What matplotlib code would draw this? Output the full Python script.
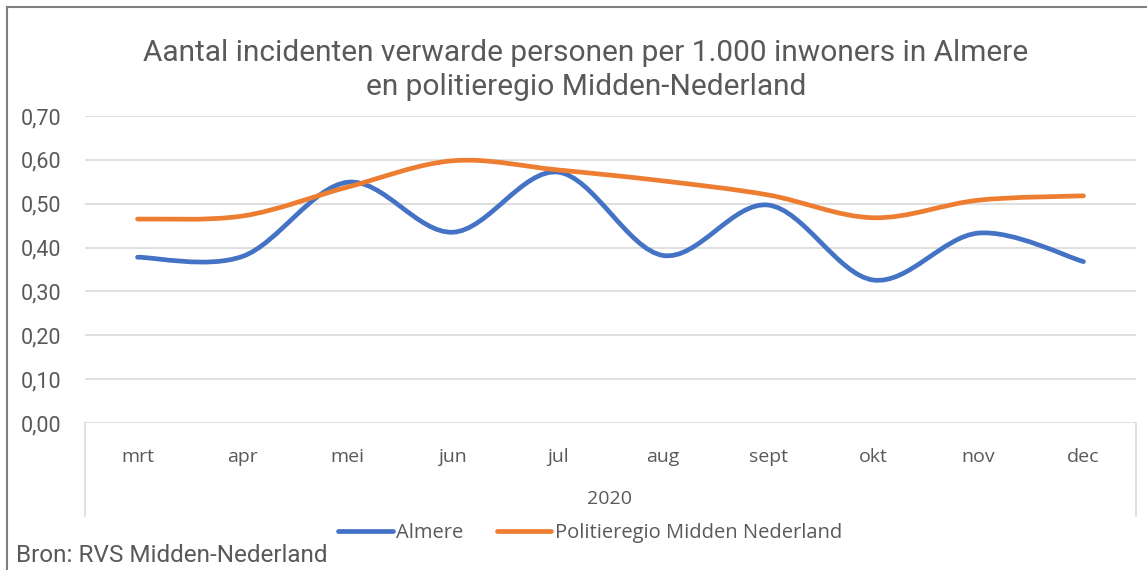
import matplotlib.pyplot as plt
from matplotlib.path import Path
from matplotlib.patches import PathPatch
from matplotlib.lines import Line2D
from matplotlib.ticker import FuncFormatter

maanden = ["mrt", "apr", "mei", "jun", "jul", "aug", "sept", "okt", "nov", "dec"]
almere = [0.378, 0.380, 0.549, 0.435, 0.572, 0.382, 0.497, 0.326, 0.433, 0.368]
midden_nl = [0.465, 0.472, 0.538, 0.598, 0.577, 0.552, 0.520, 0.468, 0.508, 0.518]
jaar = "2020"

grijs = "#595959"
blauw = "#4472C4"
oranje = "#ED7D31"


def glad(xs, ys):
    # Excel-achtige smoothing: bezier door de punten
    verts = [(xs[0], ys[0])]
    codes = [Path.MOVETO]
    n = len(xs)
    for i in range(n - 1):
        x0, y0 = (xs[i - 1], ys[i - 1]) if i > 0 else (xs[i], ys[i])
        x1, y1 = xs[i], ys[i]
        x2, y2 = xs[i + 1], ys[i + 1]
        x3, y3 = (xs[i + 2], ys[i + 2]) if i + 2 < n else (x2, y2)
        c1 = (x1 + (x2 - x0) / 6, y1 + (y2 - y0) / 6)
        c2 = (x2 - (x3 - x1) / 6, y2 - (y3 - y1) / 6)
        verts += [c1, c2, (x2, y2)]
        codes += [Path.CURVE4] * 3
    return Path(verts, codes)


fig = plt.figure(figsize=(11.47, 5.70), dpi=100)
ax = fig.add_axes([85 / 1147, 1 - 423 / 570, (1136 - 85) / 1147, (423 - 116) / 570])

x = list(range(len(maanden)))
for ys, kleur in [(almere, blauw), (midden_nl, oranje)]:
    p = PathPatch(glad(x, ys), facecolor="none", edgecolor=kleur, lw=3.4,
                  capstyle="round", joinstyle="round", zorder=3)
    ax.add_patch(p)

ax.set_xlim(-0.5, len(maanden) - 0.5)
ax.set_ylim(0, 0.70)
ax.set_yticks([i / 10 for i in range(8)])
ax.yaxis.set_major_formatter(FuncFormatter(lambda v, p: f"{v:.2f}".replace(".", ",")))
ax.grid(axis="y", color="#d9d9d9", lw=1.2)
ax.set_axisbelow(True)
for s in ["top", "right", "left", "bottom"]:
    ax.spines[s].set_visible(False)
ax.tick_params(axis="y", length=0, pad=17, labelsize=15.5, labelcolor=grijs)
for lab in ax.get_yticklabels():
    lab.set_fontfamily("Roboto")
ax.set_xticks(x)
ax.set_xticklabels(maanden, fontsize=14, color=grijs, fontfamily="Open Sans")
ax.tick_params(axis="x", length=0, pad=18)

# categorie-kader onder de as
for xp in [85, 1136]:
    fig.add_artist(Line2D([xp / 1147, xp / 1147], [1 - 423 / 570, 1 - 516 / 570],
                          color="#d9d9d9", lw=1.2))
fig.text(610 / 1147, 1 - 499 / 570, jaar, ha="center", va="center",
         fontsize=14, color=grijs, fontfamily="Open Sans")

fig.text(586 / 1147, 1 - 70 / 570,
         "Aantal incidenten verwarde personen per 1.000 inwoners in Almere\nen politieregio Midden-Nederland",
         ha="center", va="center", fontsize=21.5, color=grijs, fontfamily="Roboto",
         linespacing=1.3)

handles = [Line2D([], [], color=blauw, lw=3.4, solid_capstyle="round"),
           Line2D([], [], color=oranje, lw=3.4, solid_capstyle="round")]
fig.legend(handles, ["Almere", "Politieregio Midden Nederland"], loc="center",
           bbox_to_anchor=(590 / 1147, 1 - 533 / 570), ncol=2, frameon=False,
           handlelength=2.7, handletextpad=0.15, columnspacing=1.7,
           prop={"family": "Open Sans", "size": 14.5}, labelcolor=grijs)

fig.text(16 / 1147, 1 - 556 / 570, "Bron: RVS Midden-Nederland", ha="left", va="center",
         fontsize=17.5, color=grijs, fontfamily="Roboto")

# buitenrand
fig.add_artist(Line2D([7 / 1147, 7 / 1147], [0, 1 - 7 / 570], color="#7f7f7f", lw=1.5))
fig.add_artist(Line2D([7 / 1147, 1], [1 - 7 / 570, 1 - 7 / 570], color="#7f7f7f", lw=1.5))

fig.savefig("out.png", dpi=100)
